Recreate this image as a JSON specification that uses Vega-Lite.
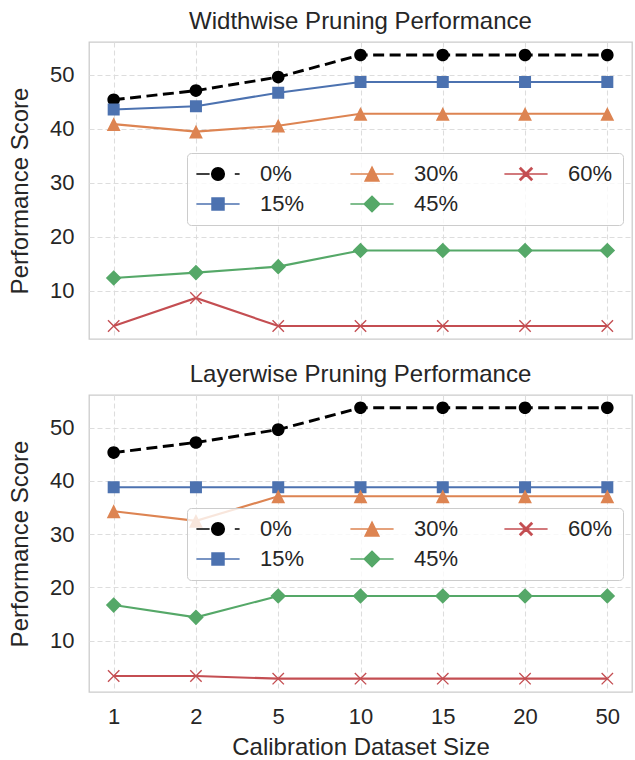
{
  "$schema": "https://vega.github.io/schema/vega-lite/v6.json",
  "padding": {"left": 7, "top": 9, "right": 0, "bottom": 0},
  "background": "white",
  "config": {
    "font": "Liberation Sans",
    "view": {"stroke": "#cccccc", "strokeWidth": 1.3},
    "axis": {
      "labelFont": "Liberation Sans", "labelFontSize": 22, "labelColor": "#262626",
      "titleFont": "Liberation Sans", "titleFontSize": 24, "titleFontWeight": "normal", "titleColor": "#262626",
      "domain": false, "ticks": false, "grid": true,
      "gridColor": "#dddddd", "gridDash": [5, 3], "gridWidth": 1.1,
      "labelPadding": 15, "titlePadding": 17
    },
    "title": {"font": "Liberation Sans", "fontSize": 24, "fontWeight": "normal", "color": "#262626", "anchor": "middle", "offset": 8},
    "legend": {
      "labelFont": "Liberation Sans", "labelFontSize": 22, "labelColor": "#262626",
      "fillColor": "rgba(255,255,255,0.8)", "strokeColor": "#cccccc", "cornerRadius": 4,
      "padding": 10, "columns": 3, "columnPadding": 42, "rowPadding": 8, "labelOffset": 31, "symbolOffset": 10,
      "symbolSize": 144, "labelBaseline": "middle"
    }
  },
  "datasets": {
    "d": [
      {"panel": "W", "size": "1", "series": "0%", "score": 45.4},
      {"panel": "W", "size": "2", "series": "0%", "score": 47.1},
      {"panel": "W", "size": "5", "series": "0%", "score": 49.6},
      {"panel": "W", "size": "10", "series": "0%", "score": 53.7},
      {"panel": "W", "size": "15", "series": "0%", "score": 53.7},
      {"panel": "W", "size": "20", "series": "0%", "score": 53.7},
      {"panel": "W", "size": "50", "series": "0%", "score": 53.7},
      {"panel": "W", "size": "1", "series": "15%", "score": 43.6},
      {"panel": "W", "size": "2", "series": "15%", "score": 44.2},
      {"panel": "W", "size": "5", "series": "15%", "score": 46.7},
      {"panel": "W", "size": "10", "series": "15%", "score": 48.7},
      {"panel": "W", "size": "15", "series": "15%", "score": 48.7},
      {"panel": "W", "size": "20", "series": "15%", "score": 48.7},
      {"panel": "W", "size": "50", "series": "15%", "score": 48.7},
      {"panel": "W", "size": "1", "series": "30%", "score": 40.9},
      {"panel": "W", "size": "2", "series": "30%", "score": 39.5},
      {"panel": "W", "size": "5", "series": "30%", "score": 40.6},
      {"panel": "W", "size": "10", "series": "30%", "score": 42.8},
      {"panel": "W", "size": "15", "series": "30%", "score": 42.8},
      {"panel": "W", "size": "20", "series": "30%", "score": 42.8},
      {"panel": "W", "size": "50", "series": "30%", "score": 42.8},
      {"panel": "W", "size": "1", "series": "45%", "score": 12.4},
      {"panel": "W", "size": "2", "series": "45%", "score": 13.4},
      {"panel": "W", "size": "5", "series": "45%", "score": 14.5},
      {"panel": "W", "size": "10", "series": "45%", "score": 17.5},
      {"panel": "W", "size": "15", "series": "45%", "score": 17.5},
      {"panel": "W", "size": "20", "series": "45%", "score": 17.5},
      {"panel": "W", "size": "50", "series": "45%", "score": 17.5},
      {"panel": "W", "size": "1", "series": "60%", "score": 3.5},
      {"panel": "W", "size": "2", "series": "60%", "score": 8.7},
      {"panel": "W", "size": "5", "series": "60%", "score": 3.5},
      {"panel": "W", "size": "10", "series": "60%", "score": 3.5},
      {"panel": "W", "size": "15", "series": "60%", "score": 3.5},
      {"panel": "W", "size": "20", "series": "60%", "score": 3.5},
      {"panel": "W", "size": "50", "series": "60%", "score": 3.5},
      {"panel": "L", "size": "1", "series": "0%", "score": 45.3},
      {"panel": "L", "size": "2", "series": "0%", "score": 47.2},
      {"panel": "L", "size": "5", "series": "0%", "score": 49.6},
      {"panel": "L", "size": "10", "series": "0%", "score": 53.7},
      {"panel": "L", "size": "15", "series": "0%", "score": 53.7},
      {"panel": "L", "size": "20", "series": "0%", "score": 53.7},
      {"panel": "L", "size": "50", "series": "0%", "score": 53.7},
      {"panel": "L", "size": "1", "series": "15%", "score": 38.8},
      {"panel": "L", "size": "2", "series": "15%", "score": 38.8},
      {"panel": "L", "size": "5", "series": "15%", "score": 38.8},
      {"panel": "L", "size": "10", "series": "15%", "score": 38.8},
      {"panel": "L", "size": "15", "series": "15%", "score": 38.8},
      {"panel": "L", "size": "20", "series": "15%", "score": 38.8},
      {"panel": "L", "size": "50", "series": "15%", "score": 38.8},
      {"panel": "L", "size": "1", "series": "30%", "score": 34.3},
      {"panel": "L", "size": "2", "series": "30%", "score": 32.5},
      {"panel": "L", "size": "5", "series": "30%", "score": 37.1},
      {"panel": "L", "size": "10", "series": "30%", "score": 37.1},
      {"panel": "L", "size": "15", "series": "30%", "score": 37.1},
      {"panel": "L", "size": "20", "series": "30%", "score": 37.1},
      {"panel": "L", "size": "50", "series": "30%", "score": 37.1},
      {"panel": "L", "size": "1", "series": "45%", "score": 16.7},
      {"panel": "L", "size": "2", "series": "45%", "score": 14.4},
      {"panel": "L", "size": "5", "series": "45%", "score": 18.4},
      {"panel": "L", "size": "10", "series": "45%", "score": 18.4},
      {"panel": "L", "size": "15", "series": "45%", "score": 18.4},
      {"panel": "L", "size": "20", "series": "45%", "score": 18.4},
      {"panel": "L", "size": "50", "series": "45%", "score": 18.4},
      {"panel": "L", "size": "1", "series": "60%", "score": 3.4},
      {"panel": "L", "size": "2", "series": "60%", "score": 3.4},
      {"panel": "L", "size": "5", "series": "60%", "score": 2.9},
      {"panel": "L", "size": "10", "series": "60%", "score": 2.9},
      {"panel": "L", "size": "15", "series": "60%", "score": 2.9},
      {"panel": "L", "size": "20", "series": "60%", "score": 2.9},
      {"panel": "L", "size": "50", "series": "60%", "score": 2.9}
    ]
  },
  "spacing": 22,
  "resolve": {
    "scale": {"fill": "independent", "stroke": "independent", "shape": "independent", "color": "independent"},
    "legend": {"fill": "independent", "stroke": "independent", "shape": "independent"}
  },
  "vconcat": [
    {
      "width": 543, "height": 297,
      "title": {"text": "Widthwise Pruning Performance"},
      "data": {"name": "d"},
      "transform": [{"filter": "datum.panel === 'W'"}],
      "encoding": {
        "x": {"field": "size", "type": "ordinal", "sort": ["1", "2", "5", "10", "15", "20", "50"], "scale": {"type": "point", "padding": 0.3}, "axis": {"labels": false, "title": null}},
        "y": {"field": "score", "type": "quantitative", "scale": {"domain": [1.1, 56.1], "nice": false, "zero": false}, "axis": {"values": [10, 20, 30, 40, 50], "title": "Performance Score"}}
      },
      "layer": [
        {
          "transform": [{"filter": "datum.series !== '0%'"}],
          "mark": {"type": "line", "strokeWidth": 2.1},
          "encoding": {"color": {"field": "series", "type": "nominal", "scale": {"domain": ["60%", "45%", "30%", "15%", "0%"], "range": ["#C44E52", "#55A868", "#DD8452", "#4C72B0", "#000000"]}, "legend": null}}
        },
        {
          "transform": [{"filter": "datum.series === '0%'"}],
          "mark": {"type": "line", "strokeWidth": 2.9, "strokeDash": [11, 5.5], "color": "#000000"},
          "encoding": {}
        },
        {
          "mark": {"type": "point", "filled": true, "opacity": 1, "strokeWidth": 0, "size": 144},
          "encoding": {
            "fill": {"field": "series", "type": "nominal", "scale": {"domain": ["0%", "15%", "30%", "45%", "60%"], "range": ["#000000", "#4C72B0", "#DD8452", "#55A868", "#C44E52"]},
              "legend": {"title": null, "orient": "none", "legendX": 98, "legendY": 111, "encode": {"symbols": {"update": {"strokeWidth": {"signal": "datum.value === '0%' ? 2.8 : 2"}}}}}},
            "stroke": {"field": "series", "type": "nominal", "scale": {"domain": ["0%", "15%", "30%", "45%", "60%"], "range": ["#000000", "#4C72B0", "#DD8452", "#55A868", "#C44E52"]},
              "legend": {"title": null, "orient": "none", "legendX": 98, "legendY": 111, "encode": {"symbols": {"update": {"strokeWidth": {"signal": "datum.value === '0%' ? 2.8 : 2"}}}}}},
            "shape": {"field": "series", "type": "nominal", "scale": {"domain": ["0%", "15%", "30%", "45%", "60%"], "range": [
              "M-3.6,0H-1.4M2.8,0H3.6M-1.05,0A1.05,1.05,0,1,0,1.05,0A1.05,1.05,0,1,0,-1.05,0Z",
              "M-3.6,0H3.6M-1,-1H1V1H-1Z",
              "M-3.6,0H3.6M0,-1.15L1.15,1.15L-1.15,1.15Z",
              "M-3.6,0H3.6M0,-1.3L1.3,0L0,1.3L-1.3,0Z",
              "M-3.6,0H3.6M-0.87,-1.03L1.03,0.87L0.87,1.03L-1.03,-0.87ZM-1.03,0.87L0.87,-1.03L1.03,-0.87L-0.87,1.03Z"]},
              "legend": {"title": null, "orient": "none", "legendX": 98, "legendY": 111, "encode": {"symbols": {"update": {"strokeWidth": {"signal": "datum.value === '0%' ? 2.8 : 2"}}}}}}
          }
        }
      ]
    },
    {
      "width": 543, "height": 297,
      "title": {"text": "Layerwise Pruning Performance"},
      "data": {"name": "d"},
      "transform": [{"filter": "datum.panel === 'L'"}],
      "encoding": {
        "x": {"field": "size", "type": "ordinal", "sort": ["1", "2", "5", "10", "15", "20", "50"], "scale": {"type": "point", "padding": 0.3}, "axis": {"labelAngle": 0, "title": "Calibration Dataset Size", "labelPadding": 14, "titlePadding": 8}},
        "y": {"field": "score", "type": "quantitative", "scale": {"domain": [0.4, 56.1], "nice": false, "zero": false}, "axis": {"values": [10, 20, 30, 40, 50], "title": "Performance Score"}}
      },
      "layer": [
        {
          "transform": [{"filter": "datum.series !== '0%'"}],
          "mark": {"type": "line", "strokeWidth": 2.1},
          "encoding": {"color": {"field": "series", "type": "nominal", "scale": {"domain": ["60%", "45%", "30%", "15%", "0%"], "range": ["#C44E52", "#55A868", "#DD8452", "#4C72B0", "#000000"]}, "legend": null}}
        },
        {
          "transform": [{"filter": "datum.series === '0%'"}],
          "mark": {"type": "line", "strokeWidth": 2.9, "strokeDash": [11, 5.5], "color": "#000000"},
          "encoding": {}
        },
        {
          "mark": {"type": "point", "filled": true, "opacity": 1, "strokeWidth": 0, "size": 144},
          "encoding": {
            "fill": {"field": "series", "type": "nominal", "scale": {"domain": ["0%", "15%", "30%", "45%", "60%"], "range": ["#000000", "#4C72B0", "#DD8452", "#55A868", "#C44E52"]},
              "legend": {"title": null, "orient": "none", "legendX": 98, "legendY": 113, "encode": {"symbols": {"update": {"strokeWidth": {"signal": "datum.value === '0%' ? 2.8 : 2"}}}}}},
            "stroke": {"field": "series", "type": "nominal", "scale": {"domain": ["0%", "15%", "30%", "45%", "60%"], "range": ["#000000", "#4C72B0", "#DD8452", "#55A868", "#C44E52"]},
              "legend": {"title": null, "orient": "none", "legendX": 98, "legendY": 113, "encode": {"symbols": {"update": {"strokeWidth": {"signal": "datum.value === '0%' ? 2.8 : 2"}}}}}},
            "shape": {"field": "series", "type": "nominal", "scale": {"domain": ["0%", "15%", "30%", "45%", "60%"], "range": [
              "M-3.6,0H-1.4M2.8,0H3.6M-1.05,0A1.05,1.05,0,1,0,1.05,0A1.05,1.05,0,1,0,-1.05,0Z",
              "M-3.6,0H3.6M-1,-1H1V1H-1Z",
              "M-3.6,0H3.6M0,-1.15L1.15,1.15L-1.15,1.15Z",
              "M-3.6,0H3.6M0,-1.3L1.3,0L0,1.3L-1.3,0Z",
              "M-3.6,0H3.6M-0.87,-1.03L1.03,0.87L0.87,1.03L-1.03,-0.87ZM-1.03,0.87L0.87,-1.03L1.03,-0.87L-0.87,1.03Z"]},
              "legend": {"title": null, "orient": "none", "legendX": 98, "legendY": 113, "encode": {"symbols": {"update": {"strokeWidth": {"signal": "datum.value === '0%' ? 2.8 : 2"}}}}}}
          }
        }
      ]
    }
  ]
}
